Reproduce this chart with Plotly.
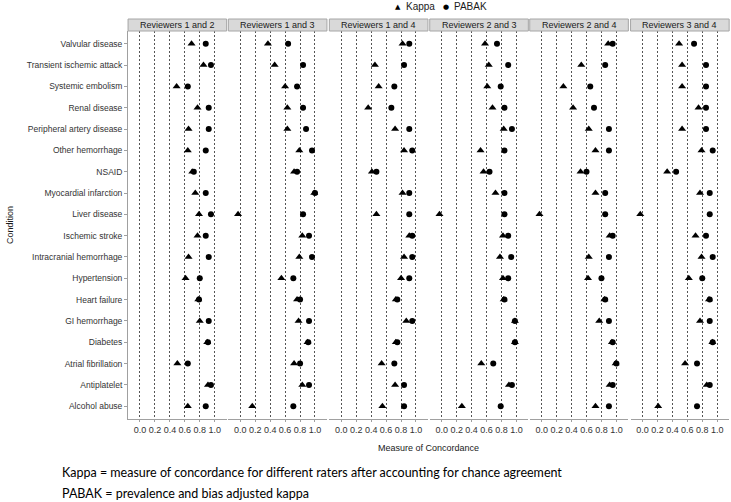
import plotly.graph_objects as go

conditions = ["Valvular disease", "Transient ischemic attack", "Systemic embolism", "Renal disease",
              "Peripheral artery disease", "Other hemorrhage", "NSAID", "Myocardial infarction",
              "Liver disease", "Ischemic stroke", "Intracranial hemorrhage", "Hypertension",
              "Heart failure", "GI hemorrhage", "Diabetes", "Atrial fibrillation", "Antiplatelet",
              "Alcohol abuse"]

pairs = ["Reviewers 1 and 2", "Reviewers 1 and 3", "Reviewers 1 and 4",
         "Reviewers 2 and 3", "Reviewers 2 and 4", "Reviewers 3 and 4"]

kappa_12 = [0.69, 0.85, 0.49, 0.77, 0.65, 0.64, 0.70, 0.74, 0.79, 0.77, 0.65, 0.61, 0.78, 0.80, 0.90, 0.50, 0.91, 0.64]
pabak_12 = [0.88, 0.95, 0.64, 0.92, 0.92, 0.88, 0.72, 0.88, 0.95, 0.88, 0.92, 0.80, 0.79, 0.92, 0.91, 0.64, 0.95, 0.88]
kappa_13 = [0.37, 0.46, 0.60, 0.63, 0.63, 0.79, 0.72, 0.99, -0.03, 0.83, 0.79, 0.55, 0.76, 0.78, 0.90, 0.72, 0.83, 0.16]
pabak_13 = [0.64, 0.84, 0.76, 0.84, 0.88, 0.96, 0.76, 1.00, 0.84, 0.92, 0.96, 0.71, 0.80, 0.92, 0.91, 0.80, 0.92, 0.71]
kappa_14 = [0.82, 0.45, 0.50, 0.36, 0.72, 0.84, 0.41, 0.82, 0.47, 0.91, 0.84, 0.80, 0.73, 0.87, 0.73, 0.54, 0.72, 0.55]
pabak_14 = [0.91, 0.84, 0.71, 0.67, 0.91, 0.95, 0.47, 0.91, 0.91, 0.95, 0.95, 0.91, 0.75, 0.95, 0.75, 0.71, 0.84, 0.84]
kappa_23 = [0.58, 0.63, 0.61, 0.68, 0.83, 0.52, 0.56, 0.72, -0.03, 0.82, 0.78, 0.82, 0.83, 0.98, 0.98, 0.53, 0.90, 0.27]
pabak_23 = [0.74, 0.89, 0.79, 0.84, 0.94, 0.84, 0.64, 0.84, 0.84, 0.89, 0.93, 0.89, 0.84, 0.98, 0.98, 0.69, 0.94, 0.79]
kappa_24 = [0.89, 0.53, 0.29, 0.42, 0.63, 0.72, 0.52, 0.72, -0.03, 0.91, 0.63, 0.62, 0.84, 0.77, 0.94, 0.99, 0.91, 0.72]
pabak_24 = [0.95, 0.85, 0.65, 0.70, 0.90, 0.90, 0.60, 0.85, 0.85, 0.95, 0.90, 0.80, 0.85, 0.90, 0.95, 1.00, 0.95, 0.90]
kappa_34 = [0.49, 0.53, 0.53, 0.75, 0.53, 0.79, 0.33, 0.77, -0.03, 0.71, 0.79, 0.62, 0.89, 0.77, 0.935, 0.57, 0.86, 0.21]
pabak_34 = [0.69, 0.85, 0.85, 0.85, 0.85, 0.94, 0.45, 0.90, 0.90, 0.85, 0.94, 0.80, 0.90, 0.90, 0.94, 0.73, 0.90, 0.73]

kappa_all = [kappa_12, kappa_13, kappa_14, kappa_23, kappa_24, kappa_34]
pabak_all = [pabak_12, pabak_13, pabak_14, pabak_23, pabak_24, pabak_34]

x_ticks = [0.0, 0.2, 0.4, 0.6, 0.8, 1.0]
x_ticklabels = ["0.0", "0.2", "0.4", "0.6", "0.8", "1.0"]

W, H = 731, 502
XMIN, XMAX = -0.16, 1.16
SCALE = 74.7
zero_px = [140.0, 240.3, 341.3, 441.7, 541.7, 642.5]
plot_top, plot_bot = 31.0, 419.0
strip_top = 19.0

FONT = "Liberation Sans, Arial, sans-serif"
fig = go.Figure()
for i in range(6):
    xa = "x" if i == 0 else f"x{i+1}"
    ya = "y" if i == 0 else f"y{i+1}"
    fig.add_trace(go.Scatter(x=kappa_all[i], y=conditions, mode="markers", xaxis=xa, yaxis=ya,
                             name="Kappa", showlegend=False,
                             marker=dict(symbol="triangle-up", size=7, color="black")))
    fig.add_trace(go.Scatter(x=pabak_all[i], y=conditions, mode="markers", xaxis=xa, yaxis=ya,
                             name="PABAK", showlegend=False,
                             marker=dict(symbol="circle", size=6, color="black")))

layout = dict(width=W, height=H, autosize=False, margin=dict(l=0, r=0, t=0, b=0),
              plot_bgcolor="white", paper_bgcolor="white", font=dict(family=FONT, color="#333333"))
shapes = []
annotations = []
ydom = [1 - plot_bot / H, 1 - plot_top / H]
for i in range(6):
    x0 = zero_px[i] + XMIN * SCALE
    x1 = zero_px[i] + XMAX * SCALE
    dom = [x0 / W, min(x1 / W, 1.0)]
    xk = "xaxis" if i == 0 else f"xaxis{i+1}"
    yk = "yaxis" if i == 0 else f"yaxis{i+1}"
    layout[xk] = dict(domain=dom, range=[XMIN, XMAX], anchor="y" if i == 0 else f"y{i+1}",
                      tickvals=x_ticks, ticktext=x_ticklabels, showgrid=True,
                      gridcolor="#555555", gridwidth=0.8, griddash="2px,2px",
                      zeroline=False, showline=True, linecolor="#a0a0a0", linewidth=1,
                      ticks="outside", ticklen=2, tickcolor="#a0a0a0",
                      tickfont=dict(size=9, color="#333333", family=FONT), fixedrange=True)
    layout[yk] = dict(domain=ydom, anchor="x" if i == 0 else f"x{i+1}",
                      type="category", categoryorder="array", categoryarray=conditions,
                      range=[17.6, -0.6], showgrid=False, zeroline=False,
                      showline=(i == 0), linecolor="#a0a0a0", linewidth=1,
                      ticks="outside" if i == 0 else "", ticklen=3, tickcolor="#a0a0a0",
                      showticklabels=(i == 0),
                      tickfont=dict(size=8.5, color="#333333", family=FONT), fixedrange=True)
    shapes.append(dict(type="rect", xref="paper", yref="paper", x0=dom[0], x1=dom[1],
                       y0=1 - plot_top / H, y1=1 - strip_top / H,
                       fillcolor="#d9d9d9", line=dict(color="#a6a6a6", width=1)))
    annotations.append(dict(text=pairs[i], xref="paper", yref="paper",
                            x=(dom[0] + dom[1]) / 2, y=1 - (strip_top + plot_top) / 2 / H,
                            xanchor="center", yanchor="middle", showarrow=False,
                            font=dict(size=9, color="#1a1a1a", family=FONT)))

# axis titles
annotations.append(dict(text="Measure of Concordance", xref="paper", yref="paper",
                        x=(zero_px[0] + XMIN * SCALE + zero_px[5] + XMAX * SCALE) / 2 / W,
                        y=1 - 448 / H, xanchor="center", yanchor="middle", showarrow=False,
                        font=dict(size=9, color="#1a1a1a", family=FONT)))
annotations.append(dict(text="Condition", xref="paper", yref="paper", x=10 / W,
                        y=1 - (plot_top + plot_bot) / 2 / H, xanchor="center", yanchor="middle",
                        textangle=-90, showarrow=False,
                        font=dict(size=9, color="#1a1a1a", family=FONT)))
# legend
annotations.append(dict(text="▲", xref="paper", yref="paper", x=398 / W, y=1 - 7 / H,
                        xanchor="center", yanchor="middle", showarrow=False,
                        font=dict(size=7, color="black", family="DejaVu Sans")))
annotations.append(dict(text="Kappa", xref="paper", yref="paper", x=404 / W, y=1 - 7 / H,
                        xanchor="left", yanchor="middle", showarrow=False,
                        font=dict(size=10, color="#1a1a1a", family=FONT)))
annotations.append(dict(text="●", xref="paper", yref="paper", x=446 / W, y=1 - 7 / H,
                        xanchor="center", yanchor="middle", showarrow=False,
                        font=dict(size=7, color="black", family="DejaVu Sans")))
annotations.append(dict(text="PABAK", xref="paper", yref="paper", x=452 / W, y=1 - 7 / H,
                        xanchor="left", yanchor="middle", showarrow=False,
                        font=dict(size=10, color="#1a1a1a", family=FONT)))
# footnotes
annotations.append(dict(text="Kappa = measure of concordance for different raters after accounting for chance agreement",
                        xref="paper", yref="paper", x=60 / W, y=1 - 472 / H, xanchor="left",
                        yanchor="middle", showarrow=False,
                        font=dict(size=12.5, color="black", family="Lato, sans-serif")))
annotations.append(dict(text="PABAK = prevalence and bias adjusted kappa",
                        xref="paper", yref="paper", x=60 / W, y=1 - 493 / H, xanchor="left",
                        yanchor="middle", showarrow=False,
                        font=dict(size=12.5, color="black", family="Lato, sans-serif")))

layout["shapes"] = shapes
layout["annotations"] = annotations
fig.update_layout(**layout)
fig.write_html("out.html", config={"displayModeBar": False},
               post_script="document.body.style.margin='0px';document.body.style.overflow='hidden';")
